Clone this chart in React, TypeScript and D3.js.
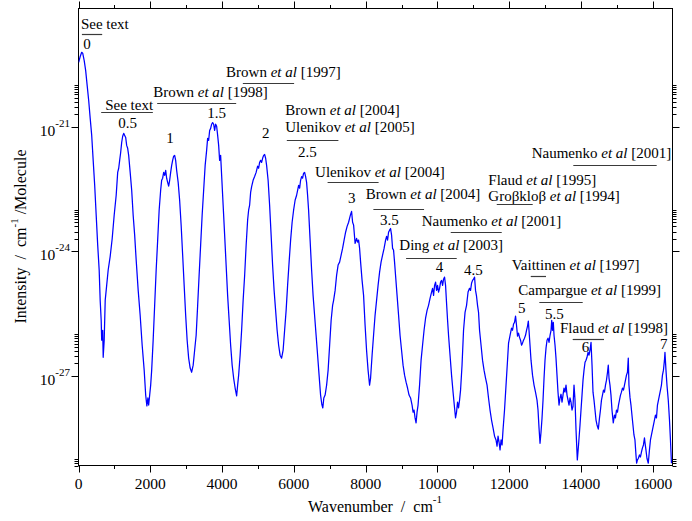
import React from 'react';
import * as d3 from 'd3';

// ---- data ----
// spectrum: [wavenumber (cm^-1), log10 intensity (cm^-1/molecule)]
const spectrum: [number, number][] = [
[5,-19.45],[47,-19.31],[89,-19.21],[117,-19.23],[159,-19.41],[200,-19.65],[242,-20.01],[284,-20.37],[326,-20.80],[368,-21.21],
[409,-21.81],[451,-22.41],[493,-23.13],[535,-23.85],[576,-24.45],[604,-25.18],[632,-25.66],[646,-26.14],[674,-25.90],[688,-26.55],
[716,-26.14],[744,-25.18],[785,-24.82],[827,-24.45],[883,-24.12],[939,-23.69],[994,-23.13],[1050,-22.65],[1092,-22.10],[1120,-22.00],
[1147,-21.81],[1175,-21.62],[1203,-21.38],[1231,-21.23],[1259,-21.16],[1287,-21.21],[1315,-21.26],[1342,-21.45],[1370,-21.52],[1398,-21.69],
[1440,-22.10],[1482,-22.53],[1523,-23.13],[1565,-23.61],[1607,-24.21],[1663,-24.94],[1718,-25.54],[1774,-26.26],[1830,-26.86],[1872,-27.46],
[1905,-27.72],[1933,-27.53],[1955,-27.70],[1983,-27.46],[2011,-27.22],[2039,-26.86],[2080,-26.14],[2122,-25.30],[2164,-24.45],[2206,-23.73],
[2247,-23.01],[2289,-22.53],[2317,-22.29],[2345,-22.24],[2373,-22.10],[2401,-22.17],[2429,-22.05],[2456,-22.24],[2484,-22.34],[2512,-22.43],
[2540,-22.29],[2568,-22.10],[2596,-21.93],[2623,-21.81],[2651,-21.71],[2679,-21.69],[2707,-21.81],[2735,-22.05],[2777,-22.34],[2818,-22.77],
[2860,-23.37],[2902,-24.09],[2944,-24.82],[2986,-25.54],[3027,-26.14],[3069,-26.57],[3111,-26.81],[3153,-26.91],[3195,-26.74],[3236,-26.38],
[3278,-26.02],[3320,-25.30],[3361,-24.57],[3403,-23.85],[3445,-23.13],[3487,-22.53],[3529,-21.93],[3570,-21.57],[3598,-21.28],[3626,-21.33],
[3654,-21.09],[3682,-21.04],[3710,-20.94],[3737,-20.90],[3765,-20.94],[3793,-21.09],[3821,-20.94],[3849,-20.99],[3877,-21.21],[3905,-21.45],
[3932,-21.81],[3960,-21.69],[3988,-22.17],[4030,-22.89],[4072,-23.61],[4113,-24.33],[4155,-25.06],[4197,-25.66],[4239,-26.26],[4281,-26.74],
[4322,-27.05],[4364,-27.29],[4406,-27.48],[4434,-27.22],[4462,-26.98],[4503,-26.50],[4545,-25.90],[4587,-25.18],[4629,-24.58],[4671,-23.85],
[4712,-23.25],[4740,-23.01],[4768,-22.89],[4796,-22.58],[4824,-22.44],[4865,-22.29],[4907,-22.20],[4949,-22.10],[4991,-21.95],[5019,-22.00],
[5046,-21.86],[5074,-21.81],[5102,-21.86],[5130,-21.76],[5158,-21.69],[5186,-21.67],[5214,-21.76],[5241,-21.93],[5283,-22.29],[5325,-22.89],
[5367,-23.61],[5408,-24.33],[5450,-24.94],[5492,-25.42],[5534,-25.90],[5576,-26.26],[5617,-26.50],[5659,-26.57],[5701,-26.38],[5743,-25.90],
[5785,-25.42],[5826,-24.82],[5868,-24.26],[5910,-23.73],[5952,-23.30],[5993,-23.01],[6035,-22.77],[6077,-22.65],[6105,-22.53],[6133,-22.41],
[6161,-22.48],[6188,-22.29],[6216,-22.20],[6244,-22.24],[6272,-22.12],[6300,-22.10],[6328,-22.20],[6355,-22.34],[6383,-22.65],[6411,-23.01],
[6453,-23.73],[6495,-24.45],[6536,-25.06],[6578,-25.54],[6620,-26.02],[6662,-26.50],[6703,-26.98],[6745,-27.46],[6779,-27.68],[6807,-27.77],
[6835,-27.53],[6871,-27.46],[6913,-27.22],[6955,-26.86],[6997,-26.26],[7039,-25.66],[7080,-25.30],[7108,-25.18],[7150,-24.94],[7191,-24.58],
[7233,-24.33],[7275,-24.26],[7317,-24.09],[7358,-23.93],[7400,-23.73],[7442,-23.54],[7484,-23.40],[7526,-23.30],[7554,-23.20],[7581,-23.11],
[7609,-23.04],[7637,-23.30],[7665,-23.37],[7707,-23.81],[7748,-23.69],[7776,-23.78],[7804,-23.73],[7832,-23.93],[7860,-24.26],[7901,-24.70],
[7943,-25.06],[7985,-25.78],[8026,-26.38],[8068,-26.86],[8110,-27.22],[8138,-27.05],[8180,-26.50],[8221,-26.02],[8263,-25.54],[8305,-25.18],
[8347,-24.82],[8389,-24.50],[8430,-24.26],[8472,-24.09],[8514,-23.93],[8556,-23.73],[8584,-23.64],[8611,-23.73],[8639,-23.54],[8667,-23.49],
[8695,-23.45],[8723,-23.61],[8751,-23.93],[8778,-23.97],[8806,-24.26],[8834,-24.58],[8876,-25.06],[8918,-25.54],[8959,-26.02],[9001,-26.38],
[9043,-26.74],[9085,-26.98],[9127,-27.15],[9168,-27.29],[9210,-27.46],[9252,-27.53],[9294,-27.70],[9322,-27.87],[9349,-27.82],[9377,-28.01],
[9405,-28.13],[9433,-27.87],[9461,-27.70],[9503,-27.22],[9545,-26.62],[9586,-26.26],[9628,-25.90],[9670,-25.61],[9712,-25.42],[9753,-25.30],
[9795,-25.13],[9837,-24.98],[9865,-24.89],[9893,-25.06],[9921,-24.82],[9949,-24.74],[9976,-24.94],[10004,-24.82],[10032,-24.98],[10060,-24.89],
[10088,-24.74],[10116,-24.70],[10144,-24.82],[10171,-24.67],[10199,-24.62],[10227,-24.82],[10255,-25.25],[10283,-25.66],[10310,-26.02],[10352,-26.50],
[10394,-26.98],[10436,-27.39],[10478,-27.77],[10505,-28.01],[10533,-27.87],[10561,-27.63],[10589,-27.77],[10617,-27.58],[10645,-27.34],[10686,-26.74],
[10728,-25.90],[10770,-25.47],[10812,-25.30],[10854,-24.98],[10895,-24.89],[10923,-24.94],[10951,-24.77],[10979,-24.70],[11007,-24.67],[11035,-24.62],
[11062,-24.94],[11090,-25.08],[11118,-25.30],[11146,-25.47],[11174,-25.90],[11216,-26.26],[11257,-26.62],[11299,-26.86],[11341,-27.05],[11383,-27.22],
[11424,-27.53],[11466,-27.82],[11508,-28.06],[11550,-28.25],[11592,-28.45],[11633,-28.54],[11661,-28.69],[11689,-28.45],[11717,-28.59],[11745,-28.78],
[11773,-28.54],[11801,-28.66],[11828,-28.30],[11870,-27.82],[11912,-27.22],[11954,-26.62],[11982,-26.21],[12024,-26.02],[12065,-25.85],[12093,-25.90],
[12121,-25.75],[12149,-25.71],[12177,-25.56],[12204,-25.78],[12232,-26.04],[12260,-25.97],[12288,-26.07],[12316,-26.14],[12344,-26.26],[12371,-26.21],
[12399,-26.14],[12427,-26.09],[12455,-26.02],[12483,-25.90],[12511,-25.80],[12533,-25.68],[12552,-25.90],[12580,-26.26],[12608,-26.62],[12650,-26.98],
[12692,-27.22],[12733,-27.39],[12775,-27.58],[12803,-27.82],[12831,-28.25],[12859,-28.62],[12887,-28.35],[12915,-28.01],[12943,-27.58],[12971,-27.05],
[12998,-26.62],[13026,-26.33],[13054,-26.14],[13082,-26.09],[13110,-26.19],[13138,-26.02],[13166,-25.90],[13185,-25.66],[13207,-25.90],[13229,-25.71],
[13249,-26.02],[13277,-26.26],[13304,-26.57],[13332,-26.98],[13360,-27.39],[13388,-27.70],[13416,-27.53],[13444,-27.44],[13472,-27.63],[13499,-27.46],
[13527,-27.29],[13555,-27.39],[13583,-27.22],[13611,-27.46],[13639,-27.58],[13667,-27.70],[13694,-27.53],[13722,-27.63],[13750,-27.82],[13778,-27.73],
[13806,-27.22],[13834,-27.58],[13862,-28.30],[13898,-29.02],[13932,-28.66],[13973,-28.18],[14001,-27.82],[14029,-27.46],[14057,-27.10],[14085,-26.86],
[14113,-26.67],[14140,-26.62],[14168,-26.55],[14196,-26.43],[14224,-26.50],[14252,-26.38],[14280,-26.19],[14308,-26.74],[14335,-27.39],[14363,-27.58],
[14391,-27.82],[14419,-28.06],[14447,-28.18],[14483,-28.28],[14516,-28.01],[14543,-27.82],[14571,-27.58],[14599,-27.46],[14627,-27.34],[14655,-27.39],
[14683,-27.22],[14711,-27.10],[14739,-26.91],[14761,-26.74],[14781,-27.05],[14808,-27.22],[14836,-27.46],[14864,-27.82],[14900,-28.13],[14934,-27.94],
[14961,-28.01],[14989,-27.82],[15017,-27.87],[15045,-27.70],[15073,-27.58],[15101,-27.46],[15128,-27.39],[15156,-27.29],[15184,-27.34],[15212,-27.22],
[15240,-27.10],[15268,-26.98],[15295,-26.91],[15318,-26.57],[15337,-27.22],[15365,-27.51],[15393,-27.70],[15420,-27.94],[15448,-28.18],[15476,-28.42],
[15504,-28.54],[15532,-28.90],[15551,-29.10],[15573,-29.02],[15601,-28.98],[15629,-28.90],[15657,-28.95],[15685,-28.83],[15713,-28.73],[15741,-28.66],
[15769,-28.49],[15782,-28.59],[15810,-28.78],[15838,-28.98],[15875,-29.10],[15908,-28.78],[15936,-28.54],[15964,-28.42],[15992,-28.30],[16020,-28.18],
[16047,-28.06],[16075,-27.94],[16103,-28.01],[16131,-27.70],[16159,-27.58],[16187,-27.46],[16215,-27.34],[16242,-27.22],[16270,-26.98],[16298,-26.86],
[16326,-26.62],[16340,-26.43],[16368,-26.86],[16396,-27.22],[16432,-27.58],[16466,-28.06],[16493,-28.54],[16521,-29.10]
];

const xDomain: [number, number] = [0, 16550];
const yDomain: [number, number] = [7e-30, 7e-19];
const xMajorTicks = [0, 2000, 4000, 6000, 8000, 10000, 12000, 14000, 16000];
const xMinorTicks = [1000, 3000, 5000, 7000, 9000, 11000, 13000, 15000];
const yLabelExponents = [-21, -24, -27];
const yMinorDecades = [-21, -24, -27, -30];

type Part = { t: string; i?: boolean };
// band labels (vibrational quantum levels), anchored at [wavenumber, log10 intensity]
const bandLabels: { t: string; wn: number; lg: number }[] = [
  { t: '0', wn: 131, lg: -19.14 },
  { t: '0.5', wn: 1106, lg: -21.04 },
  { t: '1', wn: 2442, lg: -21.40 },
  { t: '1.5', wn: 3584, lg: -20.80 },
  { t: '2', wn: 5116, lg: -21.26 },
  { t: '2.5', wn: 6119, lg: -21.73 },
  { t: '3', wn: 7511, lg: -22.83 },
  { t: '3.5', wn: 8402, lg: -23.37 },
  { t: '4', wn: 9954, lg: -24.50 },
  { t: '4.5', wn: 10742, lg: -24.56 },
  { t: '5', wn: 12246, lg: -25.48 },
  { t: '5.5', wn: 13001, lg: -25.62 },
  { t: '6', wn: 14020, lg: -26.42 },
  { t: '7', wn: 16200, lg: -26.34 },
];

// literature references: text lines, anchor, and covered wavenumber range
const refLabels: { lines: Part[][]; wn: number; lg: number; lg2?: number; from: number; to: number; at: number }[] = [
  { lines: [[{ t: 'See text' }]], wn: 67, lg: -18.66, from: 95, to: 660, at: -18.76 },
  { lines: [[{ t: 'See text' }]], wn: 744, lg: -20.61, from: 632, to: 2072, at: -20.65 },
  { lines: [[{ t: 'Brown ' }, { t: 'et al', i: true }, { t: ' [1998]' }]], wn: 2080, lg: -20.295, from: 2192, to: 4393, at: -20.43 },
  { lines: [[{ t: 'Brown ' }, { t: 'et al', i: true }, { t: ' [1997]' }]], wn: 4113, lg: -19.81, from: 4579, to: 6007, at: -19.94 },
  { lines: [[{ t: 'Brown ' }, { t: 'et al', i: true }, { t: ' [2004]' }], [{ t: 'Ulenikov ' }, { t: 'et al', i: true }, { t: ' [2005]' }]], wn: 5757, lg: -20.73, lg2: -21.13, from: 5804, to: 7241, at: -21.31 },
  { lines: [[{ t: 'Ulenikov ' }, { t: 'et al', i: true }, { t: ' [2004]' }]], wn: 6592, lg: -22.21, from: 6940, to: 8361, at: -22.34 },
  { lines: [[{ t: 'Brown ' }, { t: 'et al', i: true }, { t: ' [2004]' }]], wn: 8004, lg: -22.75, from: 8216, to: 9628, at: -22.97 },
  { lines: [[{ t: 'Naumenko ' }, { t: 'et al', i: true }, { t: ' [2001]' }]], wn: 9564, lg: -23.40, from: 10371, to: 11792, at: -23.53 },
  { lines: [[{ t: 'Ding ' }, { t: 'et al', i: true }, { t: ' [2003]' }]], wn: 8940, lg: -23.97, from: 9127, to: 10538, at: -24.16 },
  { lines: [[{ t: 'Naumenko ' }, { t: 'et al', i: true }, { t: ' [2001]' }]], wn: 12627, lg: -21.745, from: 13786, to: 16109, at: -21.93 },
  { lines: [[{ t: 'Flaud ' }, { t: 'et al', i: true }, { t: ' [1995]' }], [{ t: 'Groβkloβ ' }, { t: 'et al', i: true }, { t: ' [1994]' }]], wn: 11419, lg: -22.41, lg2: -22.79, from: 11653, to: 12655, at: -22.87 },
  { lines: [[{ t: 'Vaittinen ' }, { t: 'et al', i: true }, { t: ' [1997]' }]], wn: 12070, lg: -24.455, from: 12600, to: 13026, at: -24.60 },
  { lines: [[{ t: 'Campargue ' }, { t: 'et al', i: true }, { t: ' [1999]' }]], wn: 12254, lg: -25.06, from: 12839, to: 14048, at: -25.22 },
  { lines: [[{ t: 'Flaud ' }, { t: 'et al', i: true }, { t: ' [1998]' }]], wn: 13416, lg: -25.977, from: 13769, to: 14641, at: -26.10 },
];

const W = 692, H = 521;
const L = 78.5, R = 672.5, T = 8.5, B = 465.5;
const FONT = '"Liberation Serif", "Times New Roman", Times, serif';

export default function App() {
  const x = d3.scaleLinear().domain(xDomain).range([L, R]);
  const y = d3.scaleLog().domain(yDomain).range([B, T]);
  const line = d3.line<[number, number]>()
    .x(d => x(d[0]))
    .y(d => y(Math.pow(10, d[1])));
  const yMinor: number[] = [];
  yMinorDecades.forEach(d => {
    for (let m = 2; m <= 10; m++) {
      const v = m * Math.pow(10, d);
      if (v >= yDomain[0] && v <= yDomain[1]) yMinor.push(v);
    }
  });
  const ly = (lg: number) => y(Math.pow(10, lg));

  return (
    <svg width={W} height={H} style={{ position: 'absolute', left: 0, top: 0, background: '#fff' }} fontFamily={FONT}>
      <defs>
        <clipPath id="plot"><rect x={L} y={T} width={R - L} height={B - T} /></clipPath>
      </defs>
      <rect x={0} y={0} width={W} height={H} fill="#fff" />
      {/* frame */}
      <rect x={L} y={T} width={R - L} height={B - T} fill="none" stroke="#000" strokeWidth={1} />
      {/* x ticks */}
      {xMajorTicks.map(v => (
        <g key={'xm' + v}>
          <line x1={Math.round(x(v)) + 0.5} x2={Math.round(x(v)) + 0.5} y1={B} y2={B + 7} stroke="#000" />
          <line x1={Math.round(x(v)) + 0.5} x2={Math.round(x(v)) + 0.5} y1={T} y2={T - 7} stroke="#000" />
          <text x={x(v)} y={489} textAnchor="middle" fontSize={15.5}>{v}</text>
        </g>
      ))}
      {xMinorTicks.map(v => (
        <g key={'xn' + v}>
          <line x1={Math.round(x(v)) + 0.5} x2={Math.round(x(v)) + 0.5} y1={B} y2={B + 3.5} stroke="#000" />
          <line x1={Math.round(x(v)) + 0.5} x2={Math.round(x(v)) + 0.5} y1={T} y2={T - 3.5} stroke="#000" />
        </g>
      ))}
      {/* y ticks */}
      {yLabelExponents.map(e => {
        const py = Math.round(y(Math.pow(10, e))) + 0.5;
        return (
          <g key={'ye' + e}>
            <line x1={L} x2={L - 7} y1={py} y2={py} stroke="#000" />
            <line x1={R} x2={R + 7} y1={py} y2={py} stroke="#000" />
            <text x={70} y={py + 8.5} textAnchor="end" fontSize={15.5}>10<tspan dy={-9} fontSize={11}>{e}</tspan></text>
          </g>
        );
      })}
      {yMinor.map((v, i) => {
        const py = Math.round(y(v)) + 0.5;
        return (
          <g key={'yn' + i}>
            <line x1={L} x2={L - 4} y1={py} y2={py} stroke="#000" />
            <line x1={R} x2={R + 4} y1={py} y2={py} stroke="#000" />
          </g>
        );
      })}
      {/* axis titles */}
      <text x={375} y={512} textAnchor="middle" fontSize={16} style={{ whiteSpace: 'pre' }}>
        {'Wavenumber  /  cm'}<tspan dy={-9} fontSize={11}>-1</tspan>
      </text>
      <text transform="translate(26,236.5) rotate(-90)" textAnchor="middle" fontSize={16} style={{ whiteSpace: 'pre' }}>
        {'Intensity  /  cm'}<tspan dy={-8} fontSize={11}>-1</tspan><tspan dy={8}>{' /Molecule'}</tspan>
      </text>
      {/* spectrum */}
      <path d={line(spectrum) || ''} fill="none" stroke="#0000ff" strokeWidth={1.25} strokeLinejoin="round" clipPath="url(#plot)" />
      {/* reference labels */}
      {refLabels.map((r, i) => (
        <g key={'r' + i}>
          {r.lines.map((ln, j) => (
            <text key={j} x={x(r.wn)} y={ly(j === 0 ? r.lg : (r.lg2 as number))} fontSize={15} style={{ whiteSpace: 'pre' }}>
              {ln.map((p, k) => <tspan key={k} fontStyle={p.i ? 'italic' : 'normal'}>{p.t}</tspan>)}
            </text>
          ))}
          <line x1={x(r.from)} x2={x(r.to)} y1={Math.round(ly(r.at)) + 0.5} y2={Math.round(ly(r.at)) + 0.5} stroke="#3a3a3a" strokeWidth={1.2} />
        </g>
      ))}
      {bandLabels.map((b, i) => (
        <text key={'b' + i} x={x(b.wn)} y={ly(b.lg)} fontSize={15}>{b.t}</text>
      ))}
    </svg>
  );
}
